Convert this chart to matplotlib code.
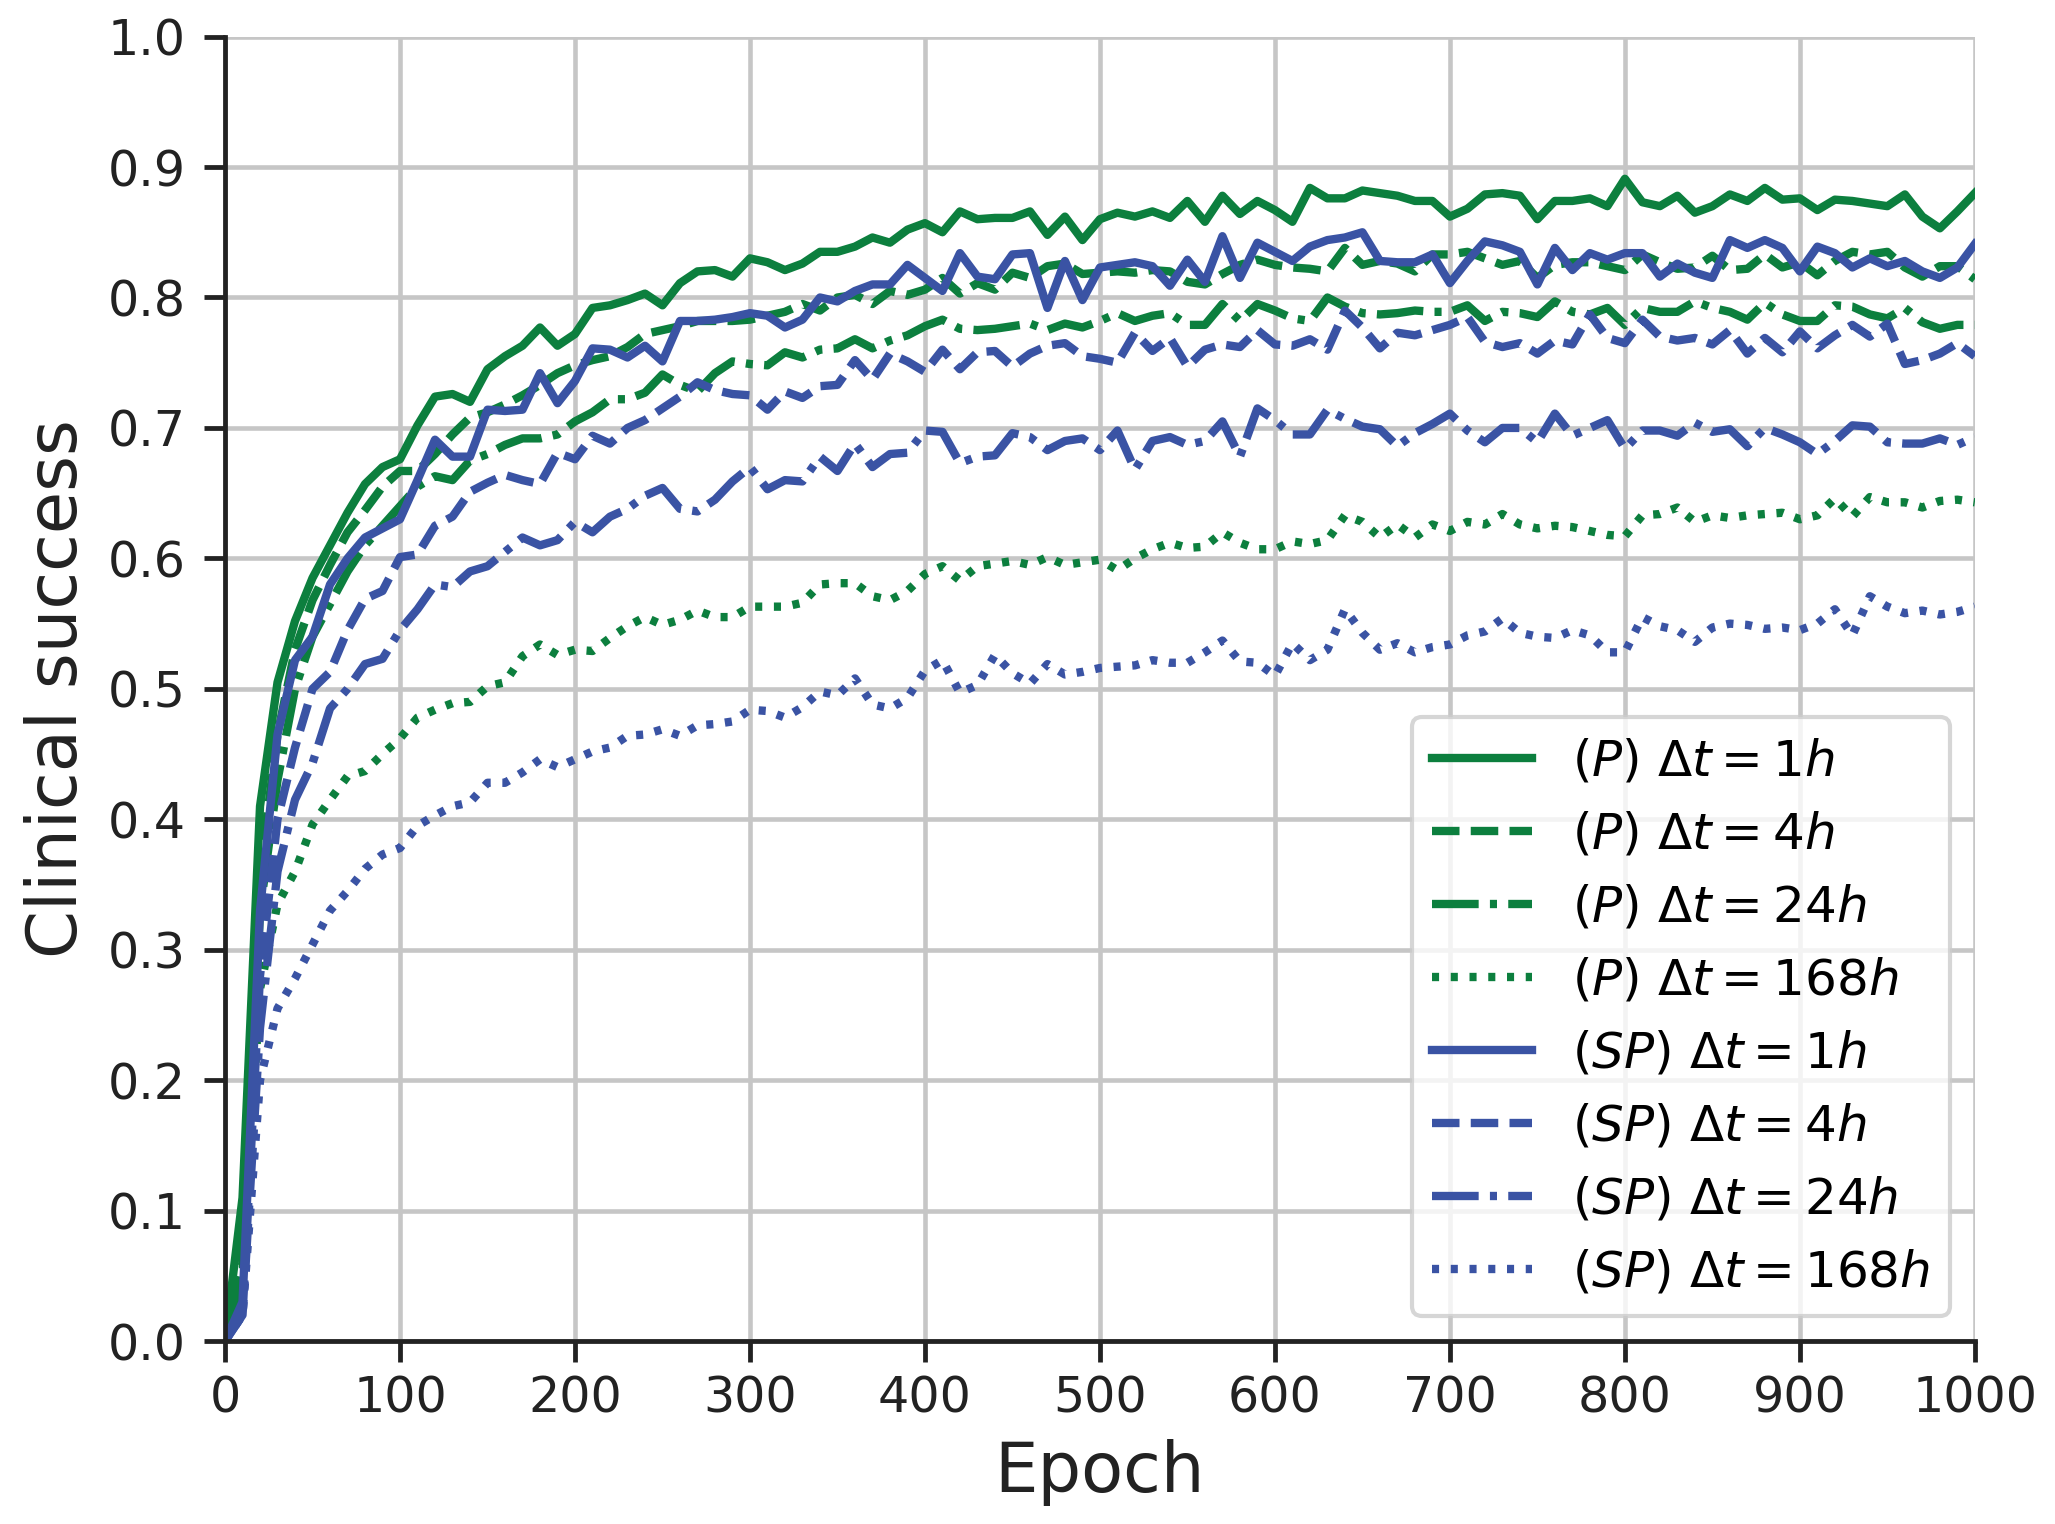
import matplotlib
matplotlib.use("Agg")
import matplotlib.pyplot as plt
import numpy as np

epochs = np.arange(0, 1001, 10)

p_1h = [0.000, 0.110, 0.410, 0.505, 0.552, 0.585, 0.610, 0.635, 0.657, 0.670,
        0.676, 0.702, 0.724, 0.726, 0.720, 0.745, 0.755, 0.763, 0.777, 0.763,
        0.772, 0.792, 0.794, 0.798, 0.803, 0.794, 0.811, 0.820, 0.821, 0.816,
        0.830, 0.827, 0.821, 0.826, 0.835, 0.835, 0.839, 0.846, 0.842, 0.852,
        0.857, 0.850, 0.866, 0.860, 0.861, 0.861, 0.866, 0.848, 0.862, 0.844,
        0.860, 0.865, 0.862, 0.866, 0.861, 0.874, 0.858, 0.878, 0.864, 0.874,
        0.867, 0.858, 0.884, 0.876, 0.876, 0.882, 0.880, 0.878, 0.874, 0.874,
        0.862, 0.868, 0.879, 0.880, 0.878, 0.860, 0.874, 0.874, 0.876, 0.870,
        0.891, 0.873, 0.870, 0.878, 0.865, 0.870, 0.879, 0.874, 0.884, 0.875,
        0.876, 0.867, 0.875, 0.874, 0.872, 0.870, 0.879, 0.862, 0.853, 0.866,
        0.880]

p_4h = [0.000, 0.060, 0.360, 0.465, 0.530, 0.568, 0.595, 0.620, 0.637, 0.655,
        0.667, 0.667, 0.680, 0.695, 0.708, 0.712, 0.718, 0.725, 0.733, 0.742,
        0.748, 0.752, 0.755, 0.762, 0.772, 0.775, 0.778, 0.782, 0.782, 0.782,
        0.783, 0.786, 0.789, 0.795, 0.790, 0.800, 0.802, 0.795, 0.805, 0.802,
        0.806, 0.815, 0.803, 0.811, 0.806, 0.819, 0.815, 0.824, 0.826, 0.818,
        0.819, 0.820, 0.819, 0.821, 0.820, 0.812, 0.810, 0.818, 0.825, 0.829,
        0.825, 0.823, 0.822, 0.820, 0.838, 0.825, 0.828, 0.826, 0.820, 0.833,
        0.833, 0.835, 0.830, 0.825, 0.828, 0.815, 0.825, 0.827, 0.827, 0.824,
        0.821, 0.833, 0.827, 0.822, 0.823, 0.832, 0.821, 0.822, 0.833, 0.823,
        0.827, 0.817, 0.828, 0.835, 0.833, 0.835, 0.823, 0.816, 0.824, 0.824,
        0.814]

p_24h = [0.000, 0.050, 0.330, 0.430, 0.500, 0.540, 0.565, 0.590, 0.610, 0.625,
         0.640, 0.655, 0.663, 0.660, 0.675, 0.680, 0.687, 0.692, 0.692, 0.695,
         0.705, 0.712, 0.722, 0.722, 0.727, 0.741, 0.733, 0.728, 0.742, 0.751,
         0.749, 0.748, 0.758, 0.754, 0.760, 0.761, 0.768, 0.761, 0.767, 0.771,
         0.778, 0.783, 0.776, 0.775, 0.776, 0.778, 0.780, 0.775, 0.780, 0.777,
         0.782, 0.788, 0.782, 0.786, 0.788, 0.779, 0.779, 0.795, 0.782, 0.795,
         0.790, 0.784, 0.782, 0.800, 0.793, 0.788, 0.787, 0.788, 0.790, 0.789,
         0.789, 0.794, 0.782, 0.789, 0.788, 0.785, 0.797, 0.789, 0.787, 0.792,
         0.779, 0.792, 0.789, 0.789, 0.797, 0.792, 0.789, 0.783, 0.796, 0.787,
         0.782, 0.782, 0.794, 0.793, 0.787, 0.784, 0.792, 0.781, 0.776, 0.779,
         0.779]

p_168h = [0.000, 0.050, 0.270, 0.335, 0.360, 0.396, 0.415, 0.433, 0.437, 0.450,
          0.462, 0.478, 0.484, 0.489, 0.490, 0.502, 0.505, 0.525, 0.534, 0.526,
          0.530, 0.529, 0.539, 0.548, 0.555, 0.549, 0.553, 0.560, 0.555, 0.555,
          0.563, 0.563, 0.563, 0.566, 0.580, 0.581, 0.581, 0.571, 0.568, 0.575,
          0.588, 0.594, 0.583, 0.594, 0.596, 0.598, 0.595, 0.601, 0.595, 0.597,
          0.599, 0.591, 0.600, 0.607, 0.612, 0.608, 0.609, 0.620, 0.612, 0.607,
          0.607, 0.613, 0.611, 0.614, 0.633, 0.628, 0.616, 0.626, 0.616, 0.626,
          0.621, 0.628, 0.626, 0.634, 0.626, 0.623, 0.625, 0.624, 0.621, 0.618,
          0.617, 0.633, 0.634, 0.639, 0.628, 0.633, 0.631, 0.633, 0.634, 0.635,
          0.630, 0.633, 0.646, 0.632, 0.647, 0.643, 0.643, 0.639, 0.644, 0.645,
          0.643]

sp_1h = [0.000, 0.030, 0.330, 0.465, 0.522, 0.540, 0.580, 0.600, 0.616, 0.623,
         0.630, 0.660, 0.691, 0.678, 0.678, 0.714, 0.713, 0.714, 0.742, 0.719,
         0.736, 0.761, 0.760, 0.754, 0.763, 0.751, 0.782, 0.782, 0.783, 0.785,
         0.788, 0.786, 0.777, 0.783, 0.800, 0.797, 0.805, 0.810, 0.810, 0.825,
         0.815, 0.805, 0.834, 0.816, 0.814, 0.833, 0.834, 0.792, 0.828, 0.798,
         0.823, 0.825, 0.827, 0.824, 0.809, 0.829, 0.812, 0.847, 0.815, 0.842,
         0.835, 0.828, 0.839, 0.844, 0.846, 0.850, 0.828, 0.827, 0.827, 0.833,
         0.811, 0.828, 0.843, 0.840, 0.835, 0.810, 0.838, 0.821, 0.834, 0.829,
         0.834, 0.834, 0.816, 0.826, 0.819, 0.815, 0.844, 0.838, 0.844, 0.838,
         0.820, 0.839, 0.834, 0.823, 0.830, 0.824, 0.828, 0.820, 0.815, 0.823,
         0.841]

sp_4h = [0.000, 0.020, 0.280, 0.400, 0.455, 0.500, 0.513, 0.545, 0.569, 0.575,
         0.601, 0.603, 0.625, 0.632, 0.651, 0.658, 0.664, 0.660, 0.657, 0.681,
         0.676, 0.694, 0.688, 0.700, 0.706, 0.715, 0.724, 0.735, 0.729, 0.726,
         0.725, 0.714, 0.728, 0.723, 0.732, 0.733, 0.752, 0.737, 0.757, 0.751,
         0.743, 0.760, 0.745, 0.758, 0.759, 0.747, 0.757, 0.763, 0.765, 0.755,
         0.753, 0.750, 0.773, 0.759, 0.769, 0.747, 0.760, 0.764, 0.762, 0.775,
         0.764, 0.763, 0.768, 0.760, 0.790, 0.777, 0.761, 0.773, 0.771, 0.775,
         0.779, 0.785, 0.766, 0.762, 0.765, 0.757, 0.767, 0.764, 0.787, 0.769,
         0.765, 0.783, 0.770, 0.767, 0.769, 0.764, 0.775, 0.757, 0.769, 0.758,
         0.774, 0.761, 0.771, 0.779, 0.770, 0.780, 0.749, 0.752, 0.757, 0.765,
         0.755]

sp_24h = [0.000, 0.020, 0.240, 0.360, 0.415, 0.443, 0.485, 0.500, 0.519, 0.523,
          0.545, 0.561, 0.580, 0.578, 0.590, 0.594, 0.605, 0.616, 0.610, 0.614,
          0.628, 0.620, 0.632, 0.638, 0.648, 0.654, 0.638, 0.636, 0.645, 0.659,
          0.670, 0.653, 0.660, 0.659, 0.678, 0.667, 0.688, 0.670, 0.680, 0.681,
          0.698, 0.697, 0.673, 0.678, 0.679, 0.696, 0.693, 0.683, 0.690, 0.692,
          0.683, 0.698, 0.668, 0.690, 0.693, 0.687, 0.690, 0.705, 0.678, 0.715,
          0.706, 0.695, 0.695, 0.714, 0.707, 0.701, 0.699, 0.686, 0.696, 0.703,
          0.711, 0.698, 0.689, 0.700, 0.700, 0.689, 0.711, 0.694, 0.700, 0.706,
          0.684, 0.698, 0.698, 0.694, 0.704, 0.697, 0.699, 0.686, 0.700, 0.695,
          0.689, 0.680, 0.690, 0.702, 0.701, 0.689, 0.688, 0.688, 0.692, 0.687,
          0.693]

sp_168h = [0.000, 0.020, 0.200, 0.255, 0.278, 0.304, 0.330, 0.345, 0.362, 0.373,
           0.378, 0.395, 0.403, 0.410, 0.413, 0.428, 0.428, 0.436, 0.446, 0.440,
           0.446, 0.452, 0.455, 0.464, 0.465, 0.469, 0.464, 0.472, 0.473, 0.475,
           0.484, 0.483, 0.478, 0.486, 0.498, 0.495, 0.508, 0.488, 0.485, 0.493,
           0.514, 0.522, 0.497, 0.503, 0.526, 0.512, 0.504, 0.519, 0.511, 0.513,
           0.516, 0.517, 0.518, 0.522, 0.520, 0.520, 0.528, 0.537, 0.521, 0.520,
           0.510, 0.535, 0.522, 0.530, 0.561, 0.543, 0.530, 0.535, 0.528, 0.532,
           0.534, 0.541, 0.544, 0.554, 0.543, 0.540, 0.539, 0.545, 0.541, 0.528,
           0.528, 0.555, 0.548, 0.545, 0.536, 0.547, 0.550, 0.549, 0.546, 0.547,
           0.545, 0.550, 0.561, 0.541, 0.571, 0.563, 0.558, 0.560, 0.557, 0.559,
           0.563]

labels = [r'$(P)\ \Delta t = 1h$', r'$(P)\ \Delta t = 4h$',
          r'$(P)\ \Delta t = 24h$', r'$(P)\ \Delta t = 168h$',
          r'$(SP)\ \Delta t = 1h$', r'$(SP)\ \Delta t = 4h$',
          r'$(SP)\ \Delta t = 24h$', r'$(SP)\ \Delta t = 168h$']

xticks = [0, 100, 200, 300, 400, 500, 600, 700, 800, 900, 1000]
yticks = [0.0, 0.1, 0.2, 0.3, 0.4, 0.5, 0.6, 0.7, 0.8, 0.9, 1.0]

GREEN = '#0c7f3e'
BLUE = '#3a53a4'
DARK = '#222222'

plt.rcParams['font.family'] = ['DejaVu Sans']
plt.rcParams['mathtext.fontset'] = 'dejavusans'

fig = plt.figure(figsize=(2055 / 300, 1524 / 300), dpi=300)
ax = fig.add_axes([0.1095, 0.12, 0.8515, 0.856])

series = [p_1h, p_4h, p_24h, p_168h, sp_1h, sp_4h, sp_24h, sp_168h]
colors = [GREEN] * 4 + [BLUE] * 4
dash_styles = [None, (3.3, 1.35), (5.6, 1.35, 0.85, 1.35), (0.85, 1.4)] * 2
for ys, c, ds, lab in zip(series, colors, dash_styles, labels):
    if ds is None:
        ax.plot(epochs, ys, color=c, ls='-', lw=2.0, label=lab)
    else:
        ax.plot(epochs, ys, color=c, ls=(0, ds), lw=2.0, label=lab)

ax.set_xlim(0, 1000)
ax.set_ylim(0, 1.0)
ax.set_xticks(xticks)
ax.set_yticks(yticks)
ax.set_yticklabels([f'{v:.1f}' for v in yticks])
ax.grid(True, color='#c6c6c6', lw=1.1)
ax.set_axisbelow(True)
for s in ['top', 'right']:
    ax.spines[s].set_visible(False)
for s in ['left', 'bottom']:
    ax.spines[s].set_color(DARK)
    ax.spines[s].set_linewidth(1.15)
ax.tick_params(axis='both', length=5, width=1.15, color=DARK,
               labelcolor=DARK, labelsize=11.8)
ax.tick_params(axis='y', pad=4.5)
ax.tick_params(axis='x', pad=3.0)

ax.set_xlabel('Epoch', fontsize=16.5, color=DARK)
ax.set_ylabel('Clinical success', fontsize=16.5, color=DARK)

ax.legend(loc='lower right', fontsize=12, handlelength=2.0)

fig.savefig('out.png', dpi=300)
